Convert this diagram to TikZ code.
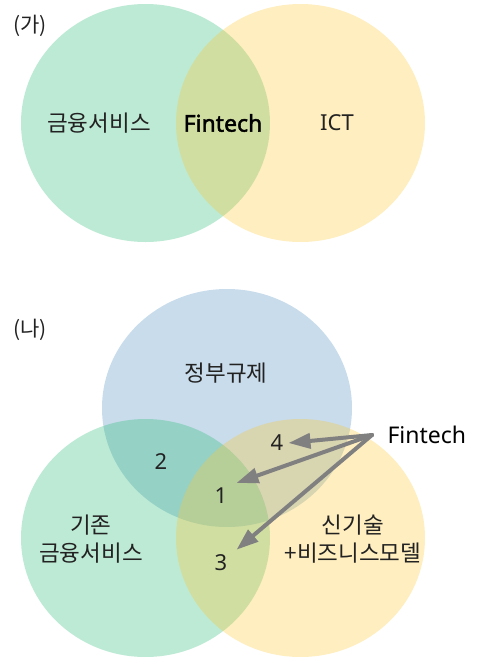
\documentclass[tikz,border=0pt]{standalone}
\usepackage{fontspec}
\setmainfont{Noto Sans}
\newfontfamily\kr{Noto Sans CJK KR}
\newfontfamily\latbold{Noto Sans}[FakeBold=2]
\usetikzlibrary{arrows.meta}
\definecolor{setgreen}{RGB}{35,185,115}
\definecolor{setyellow}{RGB}{255,198,45}
\definecolor{setblue}{RGB}{75,138,188}
\definecolor{pointergray}{RGB}{128,128,128}
\definecolor{ink}{RGB}{34,34,34}
\begin{document}
\begin{tikzpicture}[x=1pt,y=-1pt,
  setfill/.style={fill=#1, fill opacity=0.3},
  krlabel/.style={font=\kr\fontsize{22.5}{28}\selectfont, text=ink, align=center},
  latlabel/.style={font=\fontsize{22}{26}\selectfont, text=ink},
  num/.style={latlabel, inner sep=5pt},
  pointer/.style={draw=pointergray, line width=4pt, line cap=round,
    -{Triangle[length=22pt,width=15pt]}}
]
\useasboundingbox (0,0) rectangle (477,657);

% (가): two sets
\fill[setfill=setgreen]  (145.5,123) ellipse [x radius=124.5pt, y radius=119pt];
\fill[setfill=setyellow] (300.5,123) ellipse [x radius=124.5pt, y radius=119pt];

\node[krlabel, font=\kr\fontsize{21}{26}\selectfont] (tagA) at (30,26) {(가)};
\node[krlabel] (finA) at (99,123) {금융서비스};
\node[latlabel, font=\latbold\fontsize{23}{26}\selectfont, text=black] (ftA) at (223,123) {Fintech};
\node[latlabel] (ict) at (337,123) {ICT};

% (나): three sets
\fill[setfill=setblue]   (227,408)   ellipse [x radius=125pt, y radius=119pt];
\fill[setfill=setgreen]  (145.5,538) ellipse [x radius=124.5pt, y radius=119pt];
\fill[setfill=setyellow] (300.5,538) ellipse [x radius=124.5pt, y radius=119pt];

\node[krlabel, font=\kr\fontsize{21}{26}\selectfont] (tagB) at (30,330) {(나)};
\node[krlabel] (gov) at (226,373) {정부규제};
\node[krlabel] (finB) at (91,539) {기존\\금융서비스};
\node[krlabel] (tech) at (353,539) {신기술\\+비즈니스모델};

\node[num] (n1) at (221,496) {1};
\node[num] (n2) at (161,462) {2};
\node[num] (n3) at (221,563) {3};
\node[num] (n4) at (277,443) {4};

\node[latlabel, font=\fontsize{23}{26}\selectfont, text=black, anchor=west] (ftB) at (384,435) {Fintech};
\coordinate (src) at ([xshift=-12pt]ftB.west);

\draw[pointer] (src) -- (n4.east);
\draw[pointer] (src) -- ([xshift=4pt]n1.north east);
\draw[pointer] (src) -- ([xshift=4pt]n3.north east);
\end{tikzpicture}
\end{document}
